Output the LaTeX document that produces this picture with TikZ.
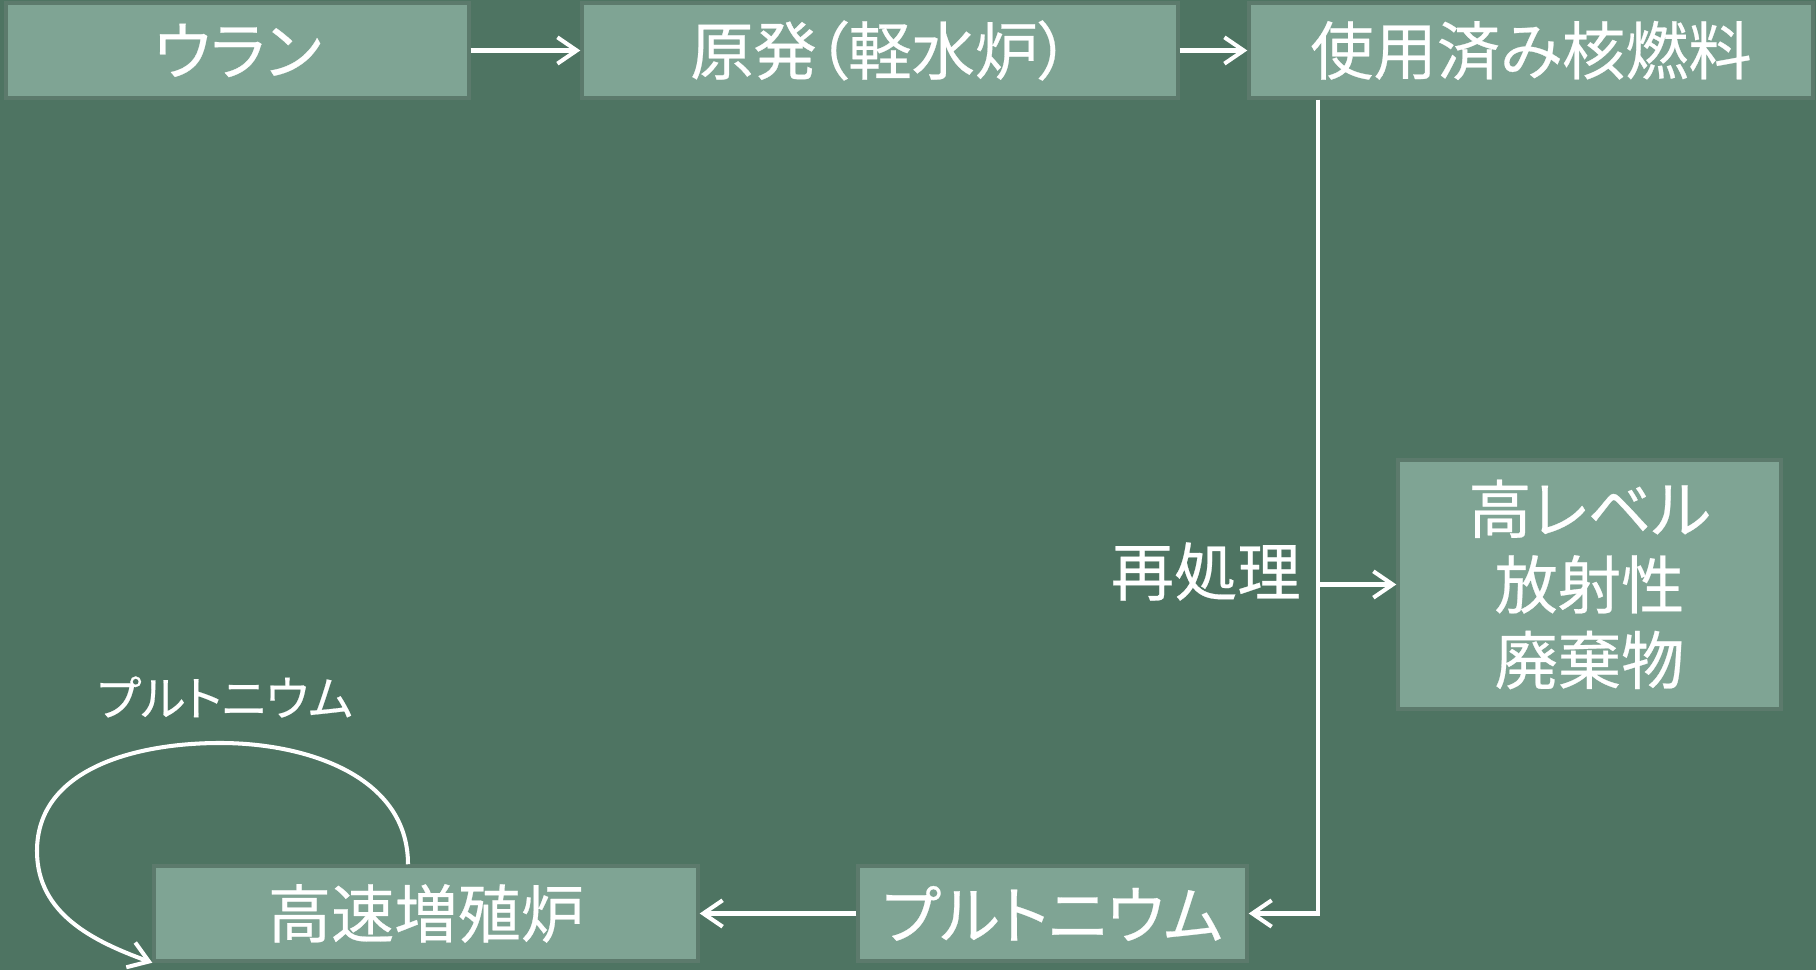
\documentclass[tikz,border=0pt]{standalone}
\usepackage{fontspec}
\setmainfont{Noto Sans CJK JP}[RawFeature=+palt, FakeBold=0.4]
\usetikzlibrary{arrows.meta}
\definecolor{board}{HTML}{4E7462}
\definecolor{boxfill}{HTML}{7FA494}
\definecolor{boxline}{HTML}{5C7A6C}

\begin{document}
\begin{tikzpicture}[x=0.02cm, y=0.02cm,
    box/.style={fill=boxfill, draw=boxline, line width=2pt, text=white,
      inner sep=0pt, minimum height=1.9cm, align=center,
      font=\fontsize{36}{43}\selectfont},
    flow/.style={draw=white, line width=2.3pt,
      -{Straight Barb[length=11pt, width=15pt]}}]
    \fill[board] (0,0) rectangle (1816,970);

    % top row
    \node[box, minimum width=9.26cm] (U) at (237.5,919.5) {ウラン};
    \node[box, minimum width=11.92cm] (R) at (880,919.5) {原発（軽水炉）};
    \node[box, minimum width=11.28cm] (S) at (1531,919.5) {使用済み核燃料};
    \draw[flow] (U) -- (R);
    \draw[flow] (R) -- (S);

    % waste
    \node[box, minimum width=7.66cm, minimum height=4.98cm] (W) at (1589.5,385.5)
       {高レベル\\放射性\\廃棄物};

    % bottom row
    \node[box, minimum width=7.78cm] (P) at (1052.5,56.5) {プルトニウム};
    \node[box, minimum width=10.88cm] (F) at (426,56.5) {高速増殖炉};

    \coordinate (t) at ([xshift=1.42cm]S.south west);
    \coordinate (j) at (W.west -| t);
    \draw[flow] (t) |- (P.east);
    \draw[flow] (j) -- (W.west);
    \node[anchor=east, text=white, font=\fontsize{36}{43}\selectfont] (rp)
       at ([xshift=-0.23cm, yshift=0.26cm]j) {再処理};
    \draw[flow] (P) -- (F);

    % loop back into the breeder
    \draw[flow] ([xshift=-0.36cm]F.north)
       to[out=90, in=0] (220,227)
       to[out=180, in=90] (37,119)
       to[out=-90, in=160] (F.south west);
    \node[text=white, font=\fontsize{27}{31}\selectfont] (pl) at (225,273) {プルトニウム};
    %\draw[flow] (F.north) to [bend right=90, looseness=2] (F.west);
\end{tikzpicture}
\end{document}
